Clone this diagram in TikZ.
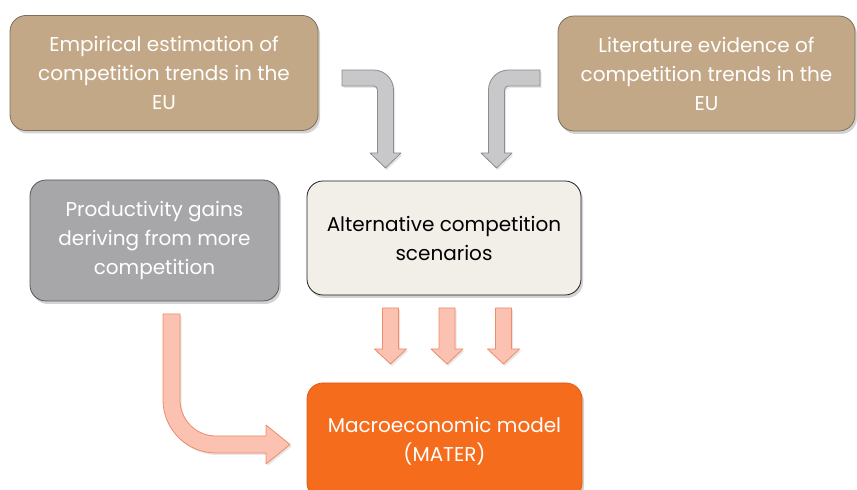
\documentclass[tikz,border=0pt]{standalone}
\usepackage{fontspec}
\setmainfont{Poppins}
\usetikzlibrary{shadows}
\tikzset{
  stepbox/.style={
    rounded corners=16pt, line width=0.8pt, align=center, inner sep=0pt,
    font=\fontsize{20}{29}\selectfont,
    drop shadow={opacity=0.35, shadow xshift=2pt, shadow yshift=-3pt},
  },
  blockarrow/.style={
    line width=0.8pt, line join=round,
    drop shadow={opacity=0.2, shadow xshift=1.5pt, shadow yshift=-2pt},
  },
}

\begin{document}
\begin{tikzpicture}[x=1pt, y=1pt]
% Defining colors
\definecolor{tanfill}{RGB}{195, 168, 135}
\definecolor{tanline}{RGB}{125, 110, 92}
\definecolor{greyfill}{RGB}{167, 167, 169}
\definecolor{greyline}{RGB}{88, 88, 90}
\definecolor{creamfill}{RGB}{242, 238, 232}
\definecolor{creamline}{RGB}{30, 30, 30}
\definecolor{macfill}{RGB}{245, 108, 28}
\definecolor{macline}{RGB}{222, 92, 20}
\definecolor{salmonfill}{RGB}{251, 193, 177}
\definecolor{salmonline}{RGB}{240, 140, 105}
\definecolor{arrowfill}{RGB}{200, 200, 202}
\definecolor{arrowline}{RGB}{140, 140, 142}

\useasboundingbox (0, 0) rectangle (857, 490);
\clip (0, 0) rectangle (857, 490);

% =:=:=:=:=:=:=:=:=:=:=:=:=:=:=:=:=:=:=
% Input boxes (top row)
% =:=:=:=:=:=:=:=:=:=:=:=:=:=:=:=:=:=:=
\node[stepbox, fill=tanfill, draw=tanline, text=white,
      minimum width=308pt, minimum height=115pt]
    (empirical) at (164, 417)
    {Empirical estimation of\\competition trends in the\\EU};

\node[stepbox, fill=tanfill, draw=tanline, text=white,
      minimum width=297pt, minimum height=115pt]
    (literature) at (706.5, 416.5)
    {Literature evidence of\\competition trends in the\\EU};

% =:=:=:=:=:=:=:=:=:=:=:=:=:=:=:=:=:=:=
% Middle row
% =:=:=:=:=:=:=:=:=:=:=:=:=:=:=:=:=:=:=
\node[stepbox, fill=greyfill, draw=greyline, text=white,
      minimum width=249pt, minimum height=121pt]
    (productivity) at (154.5, 249.5)
    {Productivity gains\\deriving from more\\competition};

\node[stepbox, fill=creamfill, draw=creamline, text=black,
      minimum width=274pt, minimum height=114pt]
    (scenarios) at (444, 252)
    {Alternative competition\\scenarios};

% =:=:=:=:=:=:=:=:=:=:=:=:=:=:=:=:=:=:=
% Model box (runs off the bottom)
% =:=:=:=:=:=:=:=:=:=:=:=:=:=:=:=:=:=:=
\node[stepbox, fill=macfill, draw=macline, text=white,
      minimum width=275pt, minimum height=116pt]
    (model) at (444.5, 49)
    {Macroeconomic model\\(MATER)};

% =:=:=:=:=:=:=:=:=:=:=:=:=:=:=:=:=:=:=
% Grey bent arrows into the scenarios
% =:=:=:=:=:=:=:=:=:=:=:=:=:=:=:=:=:=:=
\filldraw[blockarrow, fill=arrowfill, draw=arrowline]
    (342, 420) -- (373.5, 420)
    arc[start angle=90, end angle=0, radius=20]
    -- (393.5, 337) -- (401, 337) -- (385.5, 322) -- (370, 337)
    -- (377.5, 337) -- (377.5, 400)
    arc[start angle=0, end angle=90, radius=4]
    -- (342, 404) -- cycle;

\filldraw[blockarrow, fill=arrowfill, draw=arrowline]
    (540, 420) -- (508.5, 420)
    arc[start angle=90, end angle=180, radius=20]
    -- (488.5, 337) -- (481, 337) -- (496.5, 322) -- (512, 337)
    -- (504.5, 337) -- (504.5, 400)
    arc[start angle=180, end angle=90, radius=4]
    -- (540, 404) -- cycle;

% =:=:=:=:=:=:=:=:=:=:=:=:=:=:=:=:=:=:=
% Salmon arrows into the model
% =:=:=:=:=:=:=:=:=:=:=:=:=:=:=:=:=:=:=
\foreach \c in {390.5, 447, 503.5}
  \filldraw[blockarrow, fill=salmonfill, draw=salmonline]
    (\c-8, 182) -- (\c+8, 182) -- (\c+8, 141) -- (\c+16, 141)
    -- (\c, 126) -- (\c-16, 141) -- (\c-8, 141) -- cycle;

% productivity gains, bent round to the model
\filldraw[blockarrow, fill=salmonfill, draw=salmonline]
    (163, 176) -- (163, 90)
    arc[start angle=180, end angle=270, radius=53]
    -- (266, 37) -- (266, 26) -- (290, 45.5) -- (266, 65)
    -- (266, 54) -- (216, 54)
    arc[start angle=270, end angle=180, radius=36]
    -- (180, 176) -- cycle;

\end{tikzpicture}
\end{document}
